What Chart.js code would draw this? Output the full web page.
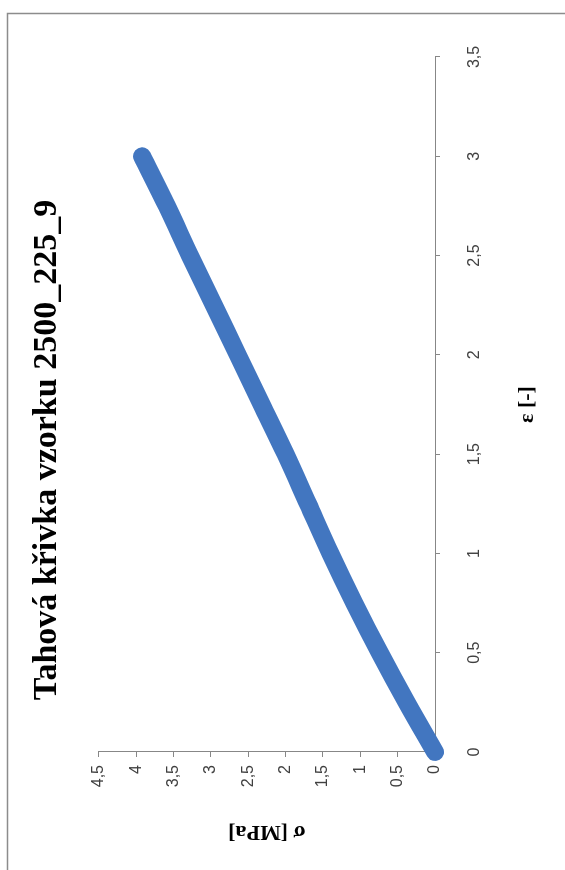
<!DOCTYPE html>
<html>
<head>
<meta charset="utf-8">
<script src="https://cdn.jsdelivr.net/npm/chart.js@4"></script>
<style>
  html, body { margin: 0; padding: 0; background: #fff; }
  #page { position: relative; width: 565px; height: 870px; overflow: hidden; }
  /* chart is laid out landscape, then turned a quarter turn counter-clockwise */
  #turn {
    position: absolute; left: 0; top: 0; width: 870px; height: 565px;
    transform-origin: 0 0; transform: translate(0, 870px) rotate(-90deg);
  }
</style>
</head>
<body>
<div id="page"><div id="turn"><canvas id="chart" width="870" height="565"></canvas></div></div>
<script>
// strain [-] and stress [MPa] of the tensile test
const strain = [0, 0.25, 0.5, 0.75, 1.0, 1.25, 1.5, 1.75, 2.0, 2.25, 2.5, 2.75, 3.0];
const stress = [0, 0.38, 0.74, 1.08, 1.40, 1.70, 2.0, 2.32, 2.64, 2.96, 3.28, 3.59, 3.92];

const strainTicks = ["0", "0,5", "1", "1,5", "2", "2,5", "3", "3,5"];
const stressTicks = ["0", "0,5", "1", "1,5", "2", "2,5", "3", "3,5", "4", "4,5"];

const chartTitle = "Tahová křivka vzorku 2500_225_9";
const strainTitle = "ε [-]";
const stressTitle = "σ [MPa]";

const points = strain.map((e, i) => ({ x: e, y: stress[i] }));

const axisGray = "#878787";
const tickFont = { family: "'Liberation Sans', Arial, sans-serif", size: 16 };
const titleFont = { family: "'Liberation Serif', 'Times New Roman', serif", weight: "bold" };

// outer frame of the chart object
const frame = {
  id: "frame",
  beforeDraw(chart) {
    const c = chart.ctx;
    c.save();
    c.strokeStyle = "#8c8c8c";
    c.lineWidth = 1.5;
    c.beginPath();
    c.moveTo(0, 7.5);
    c.lineTo(856.5, 7.5);
    c.lineTo(856.5, 565);
    c.stroke();
    c.restore();
  },
};

const ctx = document.getElementById("chart");
const myChart = new Chart(ctx, {
  type: "scatter",
  data: {
    datasets: [
      {
        data: points,
        showLine: true,
        borderColor: "#4276c0",
        backgroundColor: "#4276c0",
        borderWidth: 18,
        borderCapStyle: "round",
        borderJoinStyle: "round",
        cubicInterpolationMode: "monotone",
        pointRadius: 0,
        clip: false,
      },
    ],
  },
  options: {
    responsive: false,
    devicePixelRatio: 1,
    animation: false,
    layout: { padding: { left: 27, right: 57, top: 0, bottom: 0 } },
    plugins: {
      legend: { display: false },
      tooltip: { enabled: false },
      title: {
        display: true,
        text: chartTitle,
        color: "#000",
        font: { ...titleFont, size: 34, lineHeight: 1.2 },
        padding: { top: 27, bottom: 31 },
      },
    },
    scales: {
      x: {
        type: "linear",
        min: 0,
        max: 3.5,
        afterFit: (s) => { s.height = 130; },
        border: { color: axisGray, width: 1 },
        grid: { drawOnChartArea: false, color: axisGray, tickLength: 5 },
        ticks: {
          stepSize: 0.5,
          padding: 25,
          color: "#404040",
          font: tickFont,
          maxRotation: 0,
          callback: (v, i) => strainTicks[i],
        },
        title: {
          display: true,
          text: strainTitle,
          color: "#000",
          font: { ...titleFont, size: 22, lineHeight: 1.2 },
          padding: { top: 0, bottom: 24 },
        },
      },
      y: {
        type: "linear",
        min: 0,
        max: 4.5,
        afterFit: (s) => { s.width = 91; },
        border: { color: axisGray, width: 1 },
        grid: { drawOnChartArea: false, color: axisGray, tickLength: 5 },
        ticks: {
          stepSize: 0.5,
          padding: 8,
          color: "#404040",
          font: tickFont,
          callback: (v, i) => stressTicks[i],
        },
        title: {
          display: true,
          text: stressTitle,
          color: "#000",
          font: { ...titleFont, size: 22, lineHeight: 1 },
          padding: { top: 0, bottom: 0 },
        },
      },
    },
  },
  plugins: [frame],
});
</script>
</body>
</html>
